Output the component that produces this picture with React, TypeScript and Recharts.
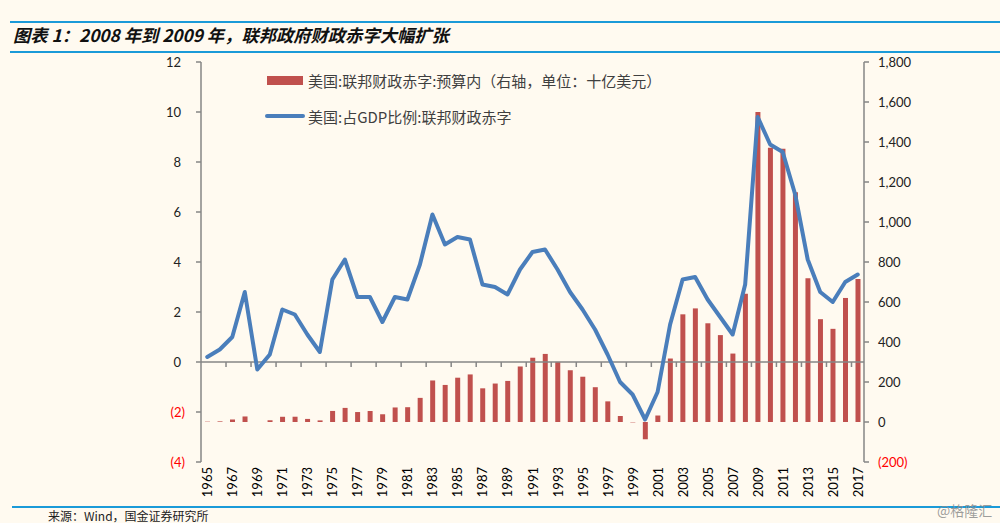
import React from 'react';
import { ComposedChart, Bar, Line, XAxis, YAxis, ReferenceLine, Legend } from 'recharts';

const years = [
  '1965', '1966', '1967', '1968', '1969', '1970', '1971', '1972', '1973', '1974',
  '1975', '1976', '1977', '1978', '1979', '1980', '1981', '1982', '1983', '1984',
  '1985', '1986', '1987', '1988', '1989', '1990', '1991', '1992', '1993', '1994',
  '1995', '1996', '1997', '1998', '1999', '2000', '2001', '2002', '2003', '2004',
  '2005', '2006', '2007', '2008', '2009', '2010', '2011', '2012', '2013', '2014',
  '2015', '2016', '2017',
];

// 美国:联邦财政赤字:预算内 (十亿美元, right axis)
const onBudgetDeficit = [
  1.6, 3.1, 12.6, 27.7, -0.5, 8.7, 26.1, 26.4, 15.4, 8.0,
  55.3, 70.5, 49.8, 54.9, 38.7, 72.7, 74.0, 120.6, 207.7, 185.3,
  221.5, 237.9, 168.4, 192.3, 205.4, 277.6, 321.4, 340.4, 300.4, 258.8,
  226.4, 174.0, 103.2, 29.9, -1.9, -86.4, 32.4, 317.4, 538.4, 568.0,
  493.6, 434.5, 342.2, 641.8, 1549.7, 1371.4, 1366.8, 1148.9, 719.0, 514.1,
  465.8, 620.2, 714.9,
];

// 美国:占GDP比例:联邦财政赤字 (%, left axis)
const deficitPctGdp = [
  0.2, 0.5, 1.0, 2.8, -0.3, 0.3, 2.1, 1.9, 1.1, 0.4,
  3.3, 4.1, 2.6, 2.6, 1.6, 2.6, 2.5, 3.9, 5.9, 4.7,
  5.0, 4.9, 3.1, 3.0, 2.7, 3.7, 4.4, 4.5, 3.7, 2.8,
  2.1, 1.3, 0.3, -0.8, -1.3, -2.3, -1.2, 1.5, 3.3, 3.4,
  2.5, 1.8, 1.1, 3.1, 9.8, 8.7, 8.4, 6.7, 4.1, 2.8,
  2.4, 3.2, 3.5,
];

const leftTicks = [-4, -2, 0, 2, 4, 6, 8, 10, 12];
const rightTicks = [-200, 0, 200, 400, 600, 800, 1000, 1200, 1400, 1600, 1800];

const barName = '美国:联邦财政赤字:预算内（右轴，单位：十亿美元）';
const lineName = '美国:占GDP比例:联邦财政赤字';
const titleText = '图表 1：2008 年到 2009 年，联邦政府财政赤字大幅扩张';
const sourceText = '来源：Wind，国金证券研究所';
const watermarkText = '@格隆汇';

const data = years.map((year, i) => ({
  year,
  deficit: onBudgetDeficit[i],
  pct: deficitPctGdp[i],
}));

const BAR_COLOR = '#c0504d';
const LINE_COLOR = '#4a7ebb';
const AXIS_COLOR = '#868686';
const RULE_COLOR = '#1b9ad8';
const NUM_FONT = 'Lato, "Open Sans", sans-serif';
const CJK_FONT = '"Noto Sans CJK SC", "Noto Sans", sans-serif';

const LeftTick = (props: any) => {
  const { x, y, payload } = props;
  const v = payload.value as number;
  const neg = v < 0;
  return (
    <text
      x={neg ? x : x - 4}
      y={y}
      textAnchor="end"
      dominantBaseline="central"
      fontSize={13}
      fontFamily={NUM_FONT}
      fill={neg ? '#ff0000' : '#222222'}
    >
      {neg ? `(${-v})` : String(v)}
    </text>
  );
};

const RightTick = (props: any) => {
  const { x, y, payload } = props;
  const v = payload.value as number;
  const neg = v < 0;
  return (
    <text
      x={x}
      y={y}
      textAnchor="start"
      dominantBaseline="central"
      fontSize={13}
      fontFamily={NUM_FONT}
      fill={neg ? '#ff0000' : '#222222'}
    >
      {neg ? `(${Math.abs(v).toLocaleString('en-US')})` : v.toLocaleString('en-US')}
    </text>
  );
};

const YearTick = (props: any) => {
  const { x, y, payload } = props;
  return (
    <text
      transform={`translate(${x},${y}) rotate(-90)`}
      textAnchor="end"
      dominantBaseline="central"
      fontSize={13}
      fontFamily={NUM_FONT}
      fill="#000000"
    >
      {payload.value}
    </text>
  );
};

const ZeroAxisShape = (props: any) => {
  const { x1, x2, y1 } = props;
  if (x1 == null || x2 == null || y1 == null) return null;
  const n = years.length;
  const band = (x2 - x1) / n;
  const ticks: React.ReactNode[] = [];
  for (let k = 2; k < n; k += 2) {
    const tx = x1 + k * band;
    ticks.push(
      <line key={k} x1={tx} x2={tx} y1={y1} y2={y1 + 5} stroke={AXIS_COLOR} strokeWidth={1.5} />
    );
  }
  return (
    <g>
      <line x1={x1} x2={x2} y1={y1} y2={y1} stroke={AXIS_COLOR} strokeWidth={1.5} />
      {ticks}
    </g>
  );
};

const LegendContent = () => (
  <div style={{ fontFamily: CJK_FONT, fontSize: 15, color: '#3f3f3f', whiteSpace: 'nowrap' }}>
    <div style={{ display: 'flex', alignItems: 'center', height: 20 }}>
      <span
        style={{
          display: 'inline-block',
          width: 36,
          height: 9,
          background: BAR_COLOR,
          marginLeft: 2,
          marginRight: 5,
        }}
      />
      <span>{barName}</span>
    </div>
    <div style={{ display: 'flex', alignItems: 'center', height: 20, marginTop: 16 }}>
      <span
        style={{
          display: 'inline-block',
          width: 40,
          height: 4,
          borderRadius: 2,
          background: LINE_COLOR,
          marginRight: 3,
        }}
      />
      <span>{lineName}</span>
    </div>
  </div>
);

export default function App() {
  return (
    <div
      style={{
        position: 'fixed',
        left: 0,
        top: 0,
        width: 1000,
        height: 523,
        background: '#fffaf0',
        overflow: 'hidden',
      }}
    >
      <div style={{ position: 'absolute', left: 10, top: 21, width: 990, height: 2, background: RULE_COLOR }} />
      <div
        style={{
          position: 'absolute',
          left: 13,
          top: 25,
          lineHeight: '20px',
          fontSize: 17.3,
          fontWeight: 'bold',
          fontStyle: 'italic',
          fontFamily: CJK_FONT,
          color: '#111111',
          whiteSpace: 'nowrap',
        }}
      >
        {titleText}
      </div>
      <div style={{ position: 'absolute', left: 10, top: 51, width: 990, height: 2, background: RULE_COLOR }} />

      <div style={{ position: 'absolute', left: 0, top: 0 }}>
        <ComposedChart
          width={1000}
          height={523}
          data={data}
          margin={{ top: 62, right: 76, bottom: 16, left: 161 }}
        >
          <XAxis
            dataKey="year"
            xAxisId="x"
            interval={1}
            axisLine={false}
            tickLine={false}
            tickSize={0}
            tickMargin={5}
            height={45}
            tick={<YearTick />}
          />
          <YAxis
            yAxisId="left"
            orientation="left"
            domain={[-4, 12]}
            ticks={leftTicks}
            interval={0}
            width={40}
            axisLine={{ stroke: AXIS_COLOR, strokeWidth: 1.5 }}
            tickLine={{ stroke: AXIS_COLOR, strokeWidth: 1.5 }}
            tickSize={5}
            tickMargin={11}
            tick={<LeftTick />}
          />
          <YAxis
            yAxisId="right"
            orientation="right"
            domain={[-200, 1800]}
            ticks={rightTicks}
            interval={0}
            width={60}
            axisLine={{ stroke: AXIS_COLOR, strokeWidth: 1.5 }}
            tickLine={{ stroke: AXIS_COLOR, strokeWidth: 1.5 }}
            tickSize={5}
            tickMargin={9}
            tick={<RightTick />}
          />
          <Legend
            layout="vertical"
            verticalAlign="middle"
            align="center"
            content={<LegendContent />}
            wrapperStyle={{ top: 70, left: 265, width: 520 }}
          />
          <Bar
            xAxisId="x"
            yAxisId="right"
            dataKey="deficit"
            name={barName}
            fill={BAR_COLOR}
            barSize={5}
            isAnimationActive={false}
          />
          <ReferenceLine xAxisId="x" yAxisId="left" y={0} shape={<ZeroAxisShape />} />
          <Line
            xAxisId="x"
            yAxisId="left"
            dataKey="pct"
            name={lineName}
            type="linear"
            stroke={LINE_COLOR}
            strokeWidth={4}
            strokeLinejoin="round"
            strokeLinecap="round"
            dot={false}
            activeDot={false}
            isAnimationActive={false}
          />
        </ComposedChart>
      </div>

      <div style={{ position: 'absolute', left: 12, top: 506, width: 988, height: 2, background: RULE_COLOR }} />
      <div
        style={{
          position: 'absolute',
          left: 48,
          top: 509,
          lineHeight: '13px',
          fontSize: 12,
          fontFamily: CJK_FONT,
          color: '#222222',
          whiteSpace: 'nowrap',
        }}
      >
        {sourceText}
      </div>
      <div
        style={{
          position: 'absolute',
          left: 937,
          top: 501,
          lineHeight: '18px',
          fontSize: 14,
          fontFamily: CJK_FONT,
          color: 'rgba(140,140,140,0.85)',
          whiteSpace: 'nowrap',
        }}
      >
        {watermarkText}
      </div>
    </div>
  );
}
